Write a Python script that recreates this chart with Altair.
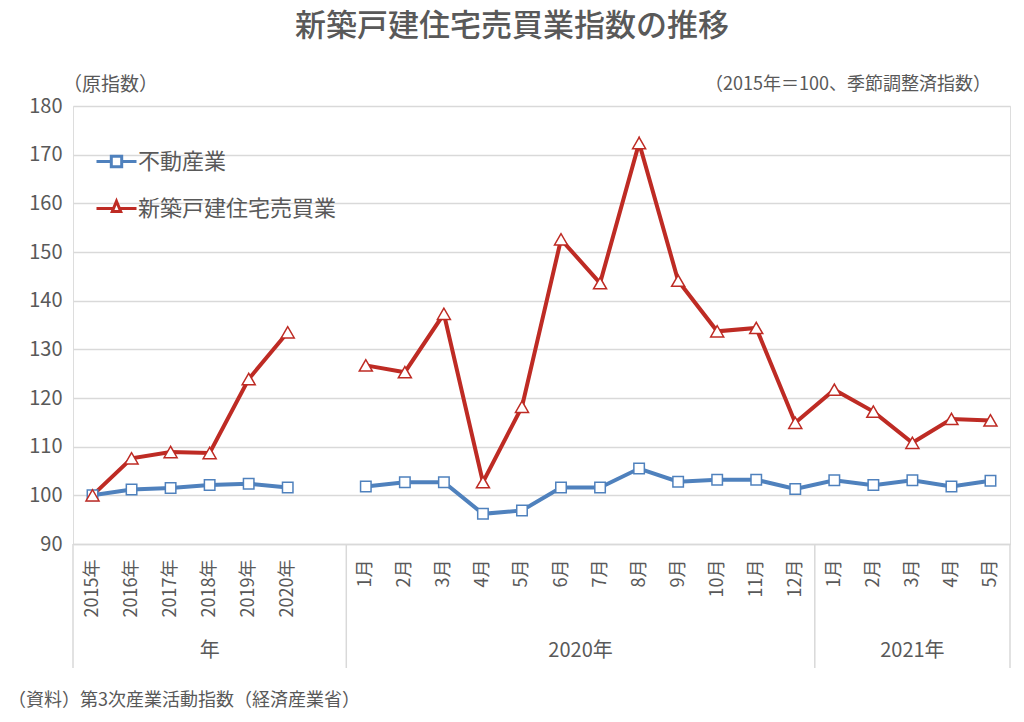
import json
import altair as alt
import pandas as pd

# ---- data -------------------------------------------------------------
series_names = ["不動産業", "新築戸建住宅売買業"]
series_colors = ["#4F81BD", "#BE2B24"]

annual_labels = ["2015年", "2016年", "2017年", "2018年", "2019年", "2020年"]
months_2020 = ["1月", "2月", "3月", "4月", "5月", "6月", "7月", "8月", "9月", "10月", "11月", "12月"]
months_2021 = ["1月", "2月", "3月", "4月", "5月"]
group_names = ["年", "2020年", "2021年"]

fudousan_annual = [100.0, 101.2, 101.5, 102.1, 102.4, 101.6]
fudousan_2020 = [101.8, 102.7, 102.7, 96.2, 96.9, 101.6, 101.6, 105.5, 102.8, 103.2, 103.2, 101.3]
fudousan_2021 = [103.1, 102.1, 103.1, 101.8, 103.0]

shinchiku_annual = [100.0, 107.6, 108.9, 108.7, 123.9, 133.5]
shinchiku_2020 = [126.7, 125.3, 137.3, 102.7, 118.2, 152.6, 143.6, 172.4, 144.1, 133.7, 134.4, 114.9]
shinchiku_2021 = [121.7, 117.2, 110.8, 115.7, 115.4]

y_ticks = [90, 100, 110, 120, 130, 140, 150, 160, 170, 180]

title_text = "新築戸建住宅売買業指数の推移"
note_left = "（原指数）"
note_right = "（2015年＝100、季節調整済指数）"
footnote = "（資料）第3次産業活動指数（経済産業省）"

# ---- build tables -----------------------------------------------------
n_a, n_m0, n_m1 = len(annual_labels), len(months_2020), len(months_2021)
gap = 1
idx_annual = list(range(n_a))
idx_monthly = list(range(n_a + gap, n_a + gap + n_m0 + n_m1))
all_labels = annual_labels + [""] * gap + months_2020 + months_2021
n_slots = len(all_labels)

rows = []
for s, ann, m0, m1 in [
    (series_names[0], fudousan_annual, fudousan_2020, fudousan_2021),
    (series_names[1], shinchiku_annual, shinchiku_2020, shinchiku_2021),
]:
    for i, v in zip(idx_annual, ann):
        rows.append({"series": s, "idx": i, "value": v, "seg": "annual"})
    for i, v in zip(idx_monthly, m0 + m1):
        rows.append({"series": s, "idx": i, "value": v, "seg": "monthly"})
df = pd.DataFrame(rows)

bounds = [-0.5, n_a + gap - 0.5, n_a + gap + n_m0 - 0.5, n_slots - 0.5]
groups = pd.DataFrame({
    "name": group_names,
    "mid": [(bounds[i] + bounds[i + 1]) / 2 for i in range(3)],
})
seps = pd.DataFrame({"b": bounds})

W, H = 937, 438
FONT = "Noto Sans CJK JP"
GREY = "#595959"

label_expr = "(" + json.dumps(all_labels, ensure_ascii=False) + ")[datum.value]"

x_scale = alt.Scale(domain=[-0.5, n_slots - 0.5], nice=False, zero=False)
y_scale = alt.Scale(domain=[90, 180], nice=False, zero=False)
color_scale = alt.Scale(domain=series_names, range=series_colors)

x_enc = alt.X(
    "idx:Q", scale=x_scale,
    axis=alt.Axis(
        values=idx_annual + idx_monthly, labelExpr=label_expr, labelAngle=270,
        ticks=False, grid=False, title=None, labelFontSize=18, labelColor=GREY,
        labelFont=FONT, labelPadding=15, domainColor="#d9d9d9", domainWidth=1.5,
        labelOverlap=False, labelFlush=False,
    ),
)
y_enc = alt.Y(
    "value:Q", scale=y_scale,
    axis=alt.Axis(
        values=y_ticks, ticks=False, domain=False, title=None, labelFontSize=20,
        labelColor=GREY, labelFont=FONT, labelPadding=11, gridColor="#d9d9d9",
        gridWidth=1.5,
    ),
)

legend_paths = [
    "M-1,0H-0.26M0.26,0H1M-0.26,-0.26H0.26V0.26H-0.26Z",
    "M-1,0H-0.2M0.2,0H1M0,-0.36L0.21,0.15L-0.21,0.15Z",
]
leg = alt.Legend(
    title=None, orient="none", legendX=22, legendY=34, labelFontSize=22,
    labelColor=GREY, labelFont=FONT, symbolSize=1600, symbolStrokeWidth=3,
    rowPadding=14, labelOffset=0, labelLimit=0, symbolOpacity=1,
)

base = alt.Chart(df)

lines = base.mark_line(strokeWidth=4).encode(
    x=x_enc, y=y_enc,
    color=alt.Color("series:N", scale=color_scale, legend=leg),
    detail="seg:N",
)

squares = base.transform_filter(alt.datum.series == series_names[0]).mark_point(
    shape="square", filled=True, size=110, strokeWidth=1.5, opacity=1
).encode(
    x="idx:Q", y="value:Q", fill=alt.value("white"),
    stroke=alt.Stroke("series:N", scale=color_scale, legend=None),
)

triangles = base.transform_filter(alt.datum.series == series_names[1]).mark_point(
    shape="triangle-up", filled=True, size=170, strokeWidth=1.5, opacity=1
).encode(
    x="idx:Q", y="value:Q", fill=alt.value("white"),
    stroke=alt.Stroke("series:N", scale=color_scale, legend=None),
)

legend_layer = alt.Chart(pd.DataFrame({"series": series_names})).mark_point(
    filled=False, strokeWidth=3, opacity=1
).encode(
    x=alt.X("missing:Q"),
    shape=alt.Shape("series:N", scale=alt.Scale(domain=series_names, range=legend_paths), legend=leg),
    color=alt.Color("series:N", scale=color_scale, legend=leg),
)

sep_rules = alt.Chart(seps).mark_rule(color="#d9d9d9", strokeWidth=1.5).encode(
    x="b:Q", y=alt.value(H), y2=alt.value(H + 124)
)

group_text = alt.Chart(groups).mark_text(
    fontSize=20, color=GREY, font=FONT, baseline="middle"
).encode(x="mid:Q", y=alt.value(H + 107), text="name:N")

note_l = alt.Chart(pd.DataFrame({"t": [note_left]})).mark_text(
    fontSize=19, color=GREY, font=FONT, align="left", baseline="middle"
).encode(x=alt.value(-10), y=alt.value(-21), text="t:N")
note_r = alt.Chart(pd.DataFrame({"t": [note_right]})).mark_text(
    fontSize=18, color=GREY, font=FONT, align="right", baseline="middle"
).encode(x=alt.value(918), y=alt.value(-21), text="t:N")
foot = alt.Chart(pd.DataFrame({"t": [footnote]})).mark_text(
    fontSize=18, color=GREY, font=FONT, align="left", baseline="middle"
).encode(x=alt.value(-65), y=alt.value(595), text="t:N")
title = alt.Chart(pd.DataFrame({"t": [title_text]})).mark_text(
    fontSize=31, color=GREY, font=FONT, fontWeight=500, align="center", baseline="middle"
).encode(x=alt.value(439), y=alt.value(-79), text="t:N")

chart = alt.layer(
    sep_rules, lines, squares, triangles, legend_layer, group_text, note_l, note_r, foot, title
).properties(
    width=W, height=H,
    autosize=alt.AutoSizeParams(type="none"),
    padding={"left": 73, "top": 106, "right": 14, "bottom": 178},
).configure_view(stroke=None).configure(background="white")

chart.save("out.html", embed_options={"renderer": "svg", "actions": False})
